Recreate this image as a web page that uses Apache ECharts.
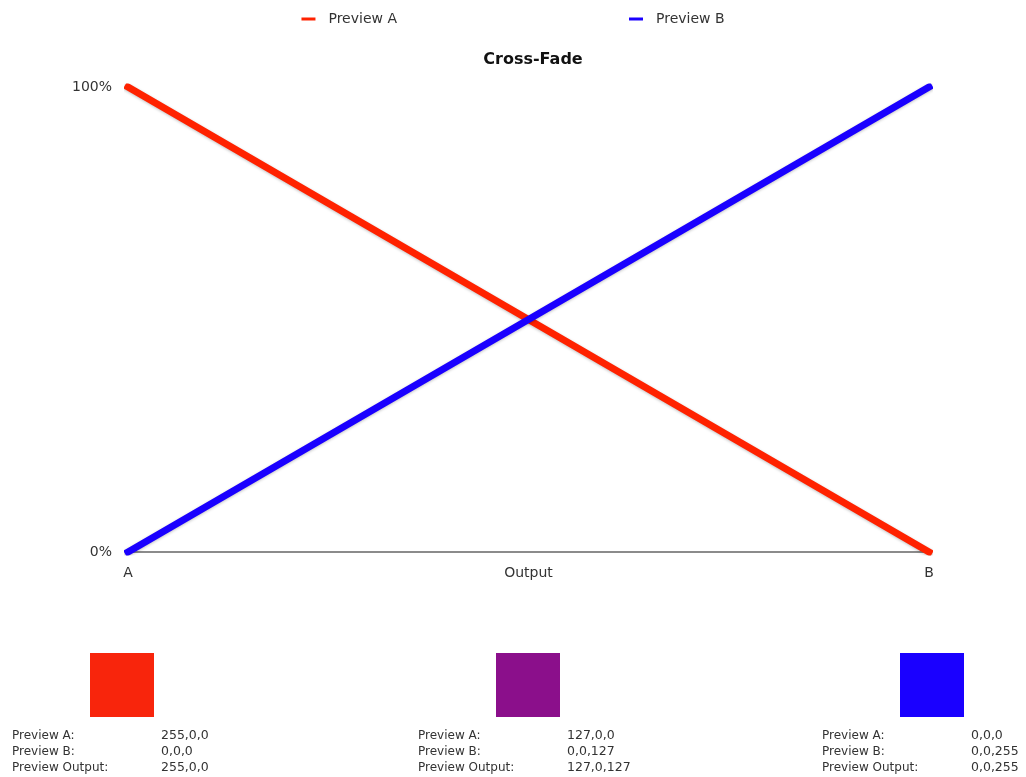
<!DOCTYPE html>
<html>
<head>
<meta charset="utf-8">
<title>Cross-Fade</title>
<script src="https://cdn.jsdelivr.net/npm/echarts@6/dist/echarts.min.js"></script>
<style>
  html, body { margin: 0; padding: 0; background: #fff; }
  #chart { width: 1026px; height: 777px; }
</style>
</head>
<body>
<div id="chart"></div>
<script>
// Crossfader positions along the x axis
const positions = ['A', 'Output', 'B'];
// Mix level of each preview (percent) at each position
const previewA = [100, 50, 0];
const previewB = [0, 50, 100];
// Y axis tick values
const yTicks = [0, 100];

// Readout panels under the chart: one per crossfader position
const readoutLabels = ['Preview A:', 'Preview B:', 'Preview Output:'];
const readoutA = ['255,0,0', '127,0,0', '0,0,0'];
const readoutB = ['0,0,0', '0,0,127', '0,0,255'];
const readoutOut = ['255,0,0', '127,0,127', '0,0,255'];

const FONT = '"DejaVu Sans", "Liberation Sans", sans-serif';
const swatchColors = ['#F8250C', '#8B0F8B', '#1A00FF'];
const panelX = [12, 418, 822];
const swatchX = [90, 496, 900];

const chart = echarts.init(document.getElementById('chart'));

const graphics = [];
positions.forEach((p, i) => {
  graphics.push({
    type: 'rect',
    left: swatchX[i], top: 653,
    shape: { width: 64, height: 64 },
    style: { fill: swatchColors[i] }
  });
  const values = [readoutA[i], readoutB[i], readoutOut[i]];
  readoutLabels.forEach((lab, r) => {
    graphics.push({
      type: 'text', x: panelX[i], y: 736 + r * 16,
      style: { text: lab, fill: '#333', font: '12px ' + FONT, verticalAlign: 'middle' }
    });
    graphics.push({
      type: 'text', x: panelX[i] + 149, y: 736 + r * 16,
      style: { text: values[r], fill: '#333', font: '12.5px ' + FONT, verticalAlign: 'middle' }
    });
  });
});

chart.setOption({
  backgroundColor: '#fff',
  animation: false,
  textStyle: { fontFamily: FONT },
  title: {
    text: 'Cross-Fade',
    left: 528, textAlign: 'center', top: 47,
    textStyle: { fontSize: 16, fontWeight: 'bold', color: '#111', fontFamily: FONT }
  },
  legend: {
    top: 7, left: 'center',
    itemGap: 232, itemWidth: 14, itemHeight: 3,
    icon: 'rect',
    textStyle: { fontSize: 14, color: '#333', fontFamily: FONT, padding: [0, 0, 0, 8] },
    data: ['Preview A', 'Preview B']
  },
  grid: { left: 128, right: 97, top: 87, bottom: 225, containLabel: false },
  xAxis: {
    type: 'category',
    data: positions,
    boundaryGap: false,
    axisLine: { lineStyle: { color: '#666', width: 1.5 } },
    axisTick: { show: false },
    axisLabel: { color: '#333', fontSize: 14, margin: 14 },
    splitLine: { show: false }
  },
  yAxis: {
    type: 'value',
    min: yTicks[0], max: yTicks[1], interval: yTicks[1] - yTicks[0],
    axisLine: { show: false },
    axisTick: { show: false },
    splitLine: { show: false },
    axisLabel: { color: '#333', fontSize: 14, margin: 16, formatter: '{value}%' }
  },
  series: [
    {
      name: 'Preview A', type: 'line', data: previewA,
      showSymbol: false, color: '#FF2200',
      lineStyle: { width: 7, color: '#FF2200', cap: 'square',
        shadowColor: 'rgba(0,0,0,0.25)', shadowBlur: 3, shadowOffsetY: 1 }
    },
    {
      name: 'Preview B', type: 'line', data: previewB,
      showSymbol: false, color: '#1A00FF',
      lineStyle: { width: 7, color: '#1A00FF', cap: 'square',
        shadowColor: 'rgba(0,0,0,0.25)', shadowBlur: 3, shadowOffsetY: 1 }
    }
  ],
  graphic: graphics
});
</script>
</body>
</html>
